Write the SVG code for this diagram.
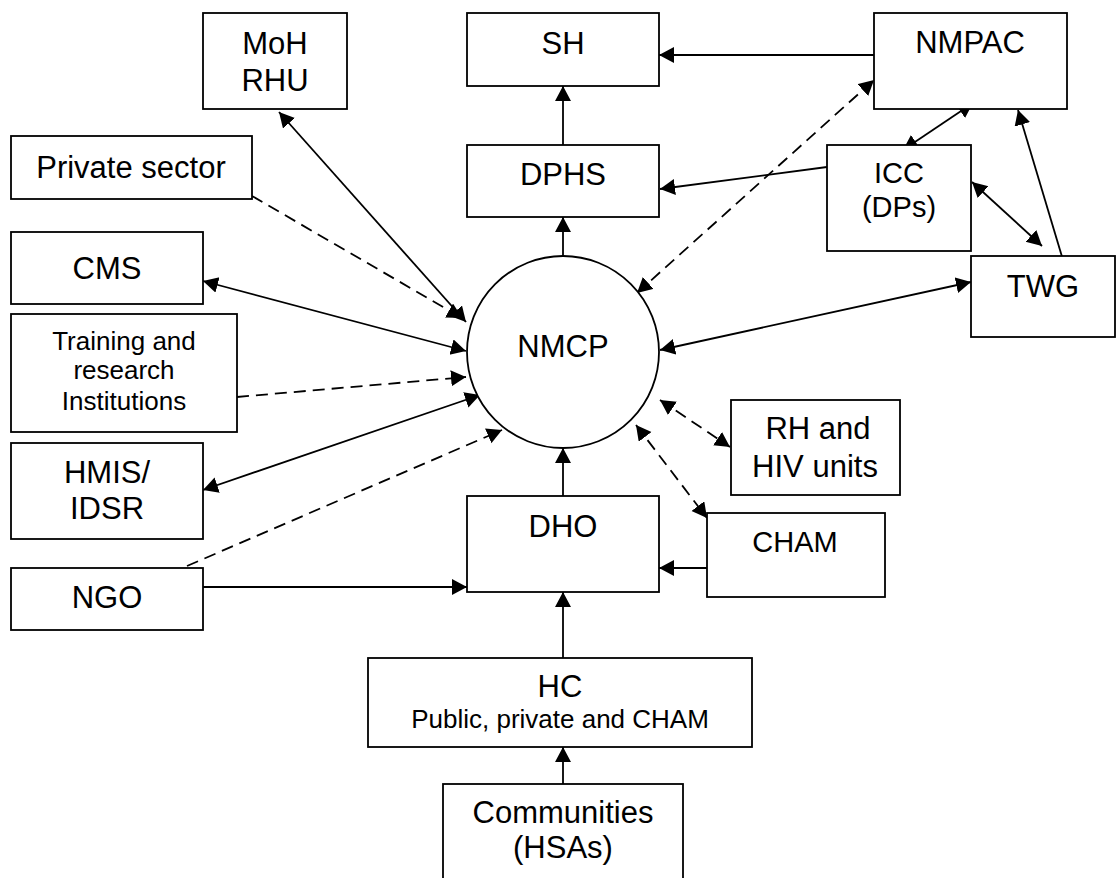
<svg xmlns="http://www.w3.org/2000/svg" width="1120" height="878" viewBox="0 0 1120 878">
<defs>
<style>
.box{fill:#fff;stroke:#000;stroke-width:1.8}
.t{font-family:"Liberation Sans",Arial,sans-serif;font-size:31px;fill:#000;text-anchor:middle}
.s{font-size:26px}
.m{font-size:29px}
.c{fill:none;stroke:#000;stroke-width:1.8}
.d{stroke-dasharray:12,7}
</style>
<marker id="a" markerUnits="userSpaceOnUse" markerWidth="17" markerHeight="17" refX="15" refY="8" orient="auto-start-reverse">
<path d="M0,0 L15,8 L0,16 z" fill="#000"/>
</marker>
</defs>
<rect width="1120" height="878" fill="#fff"/>
<g id="connectors">
<line class="c" x1="563" y1="145" x2="563" y2="86" marker-end="url(#a)"/>
<line class="c" x1="563" y1="256" x2="563" y2="217" marker-end="url(#a)"/>
<line class="c" x1="874" y1="55" x2="659" y2="55" marker-end="url(#a)"/>
<line class="c" x1="827" y1="167" x2="660" y2="189" marker-end="url(#a)"/>
<line class="c" x1="279" y1="112" x2="466" y2="322" marker-start="url(#a)" marker-end="url(#a)"/>
<line class="c d" x1="252" y1="196" x2="462" y2="318" marker-end="url(#a)"/>
<line class="c" x1="203" y1="281" x2="466" y2="351" marker-start="url(#a)" marker-end="url(#a)"/>
<line class="c d" x1="237" y1="397" x2="466" y2="377" marker-end="url(#a)"/>
<line class="c" x1="203" y1="490" x2="480" y2="395" marker-start="url(#a)" marker-end="url(#a)"/>
<line class="c d" x1="187" y1="566" x2="502" y2="430" marker-end="url(#a)"/>
<line class="c" x1="203" y1="587" x2="467" y2="587" marker-end="url(#a)"/>
<line class="c d" x1="637" y1="293" x2="874" y2="80" marker-start="url(#a)" marker-end="url(#a)"/>
<line class="c" x1="903" y1="150" x2="973" y2="103" marker-start="url(#a)" marker-end="url(#a)"/>
<line class="c" x1="972" y1="182" x2="1042" y2="246" marker-start="url(#a)" marker-end="url(#a)"/>
<line class="c" x1="1066" y1="270" x2="1018" y2="110" marker-end="url(#a)"/>
<line class="c" x1="660" y1="350" x2="971" y2="282" marker-start="url(#a)" marker-end="url(#a)"/>
<line class="c d" x1="660" y1="400" x2="730" y2="447" marker-start="url(#a)" marker-end="url(#a)"/>
<line class="c d" x1="636" y1="425" x2="707" y2="518" marker-start="url(#a)" marker-end="url(#a)"/>
<line class="c" x1="563" y1="496" x2="563" y2="448" marker-end="url(#a)"/>
<line class="c" x1="707" y1="568" x2="659" y2="568" marker-end="url(#a)"/>
<line class="c" x1="563" y1="658" x2="563" y2="592" marker-end="url(#a)"/>
<line class="c" x1="563" y1="784" x2="563" y2="747" marker-end="url(#a)"/>
</g>
<g id="moh"><rect class="box" x="203" y="13" width="144" height="96"/><text class="t" x="275" y="54">MoH</text><text class="t" x="275" y="91">RHU</text></g>
<g id="private"><rect class="box" x="11" y="136" width="241" height="63"/><text class="t" x="131" y="178">Private sector</text></g>
<g id="cms"><rect class="box" x="11" y="232" width="192" height="72"/><text class="t" x="107" y="279">CMS</text></g>
<g id="training"><rect class="box" x="11" y="314" width="226" height="118"/><text class="t s" x="124" y="350">Training and</text><text class="t s" x="124" y="379">research</text><text class="t s" x="124" y="410">Institutions</text></g>
<g id="hmis"><rect class="box" x="11" y="443" width="192" height="96"/><text class="t" x="107" y="483">HMIS/</text><text class="t" x="107" y="519">IDSR</text></g>
<g id="ngo"><rect class="box" x="11" y="568" width="192" height="62"/><text class="t" x="107" y="608">NGO</text></g>
<g id="sh"><rect class="box" x="467" y="13" width="192" height="73"/><text class="t" x="563" y="54">SH</text></g>
<g id="dphs"><rect class="box" x="467" y="145" width="192" height="72"/><text class="t" x="563" y="185">DPHS</text></g>
<g id="nmpac"><rect class="box" x="874" y="13" width="193" height="96"/><text class="t" x="970" y="53">NMPAC</text></g>
<g id="icc"><rect class="box" x="827" y="145" width="144" height="106"/><text class="t m" x="899" y="183">ICC</text><text class="t m" x="899" y="217">(DPs)</text></g>
<g id="twg"><rect class="box" x="971" y="256" width="144" height="81"/><text class="t" x="1043" y="297">TWG</text></g>
<g id="nmcp"><circle class="box" cx="563" cy="352" r="96"/><text class="t" x="563" y="357">NMCP</text></g>
<g id="rh"><rect class="box" x="731" y="400" width="169" height="95"/><text class="t" x="818" y="439">RH and</text><text class="t" x="815" y="477">HIV units</text></g>
<g id="cham"><rect class="box" x="707" y="513" width="178" height="84"/><text class="t m" x="795" y="552">CHAM</text></g>
<g id="dho"><rect class="box" x="467" y="496" width="192" height="96"/><text class="t" x="563" y="537">DHO</text></g>
<g id="hc"><rect class="box" x="368" y="658" width="384" height="89"/><text class="t" x="560" y="697">HC</text><text class="t s" x="560" y="728">Public, private and CHAM</text></g>
<g id="communities"><rect class="box" x="443" y="784" width="240" height="110"/><text class="t" x="563" y="823">Communities</text><text class="t" x="563" y="858">(HSAs)</text></g>
</svg>
